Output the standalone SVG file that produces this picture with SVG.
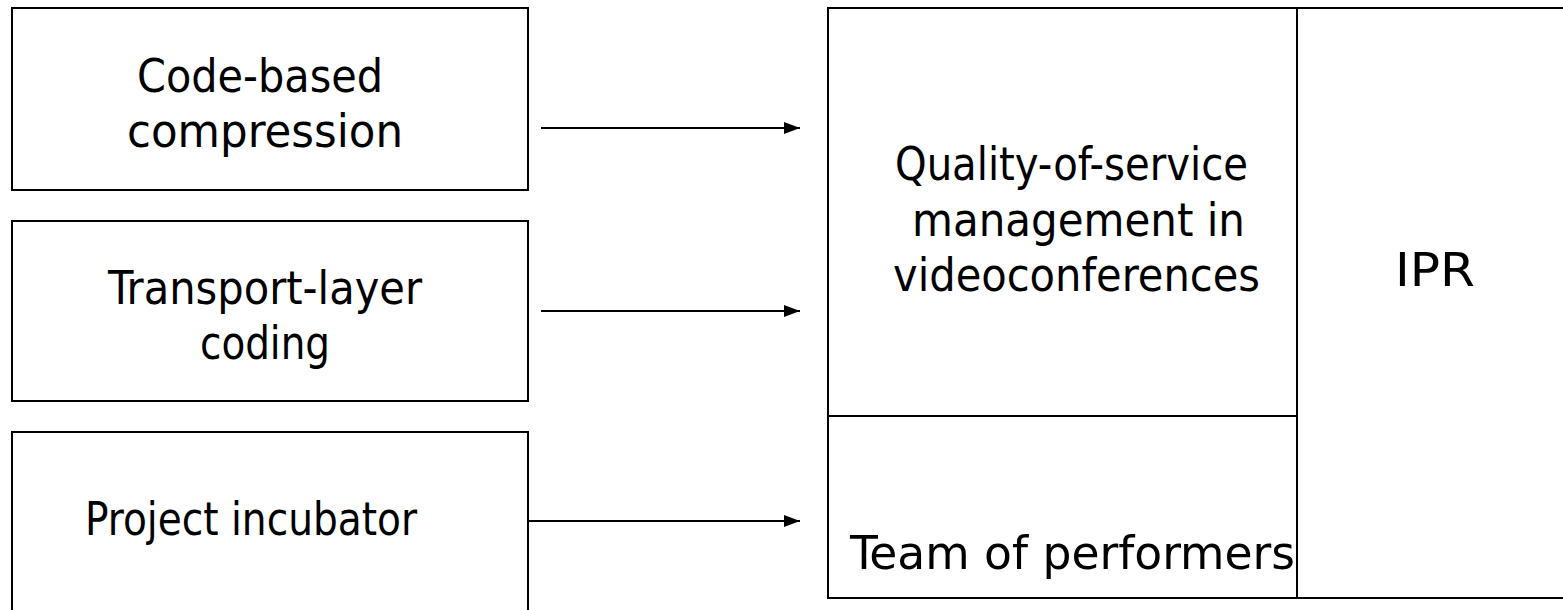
<svg xmlns="http://www.w3.org/2000/svg" width="1563" height="610" viewBox="0 0 1563 610">
<style>
.box{fill:#fff;stroke:#000;stroke-width:2}
.t{font-family:"DejaVu Sans Condensed","DejaVu Sans","Liberation Sans",sans-serif;font-size:46px;fill:#000}
.c{stroke:#000;stroke-width:2;fill:none}
</style>
<defs>
<marker id="ah" markerUnits="userSpaceOnUse" markerWidth="17" markerHeight="14" refX="16" refY="7" orient="auto">
<path d="M0,1 L16,7 L0,13 z" fill="#000"/>
</marker>
</defs>
<rect width="1563" height="610" fill="#fff"/>
<g id="node-code">
<rect class="box" x="12" y="8" width="516" height="182"/>
<text class="t" x="137" y="92" textLength="246" lengthAdjust="spacingAndGlyphs">Code-based</text>
<text class="t" x="127" y="147" textLength="276" lengthAdjust="spacingAndGlyphs">compression</text>
</g>
<g id="node-transport">
<rect class="box" x="12" y="221" width="516" height="180"/>
<text class="t" x="108" y="304" textLength="314" lengthAdjust="spacingAndGlyphs">Transport-layer</text>
<text class="t" x="200" y="359" textLength="130" lengthAdjust="spacingAndGlyphs">coding</text>
</g>
<g id="node-incubator">
<rect class="box" x="12" y="432" width="516" height="184"/>
<text class="t" x="85" y="535" textLength="332" lengthAdjust="spacingAndGlyphs">Project incubator</text>
</g>
<g id="node-qos">
<rect class="box" x="828" y="8" width="517" height="590"/>
<text class="t" x="895" y="180" textLength="353" lengthAdjust="spacingAndGlyphs">Quality-of-service</text>
<text class="t" x="912" y="236" textLength="333" lengthAdjust="spacingAndGlyphs">management in</text>
<text class="t" x="893" y="291" textLength="367" lengthAdjust="spacingAndGlyphs">videoconferences</text>
</g>
<g id="node-team">
<line class="c" x1="828" y1="416" x2="1297" y2="416"/>
<text class="t" x="850" y="569" textLength="445" lengthAdjust="spacingAndGlyphs">Team of performers</text>
</g>
<g id="node-ipr">
<rect class="box" x="1297" y="8" width="280" height="590"/>
<text class="t" x="1395" y="286" textLength="80" lengthAdjust="spacingAndGlyphs">IPR</text>
</g>
<g id="connectors">
<line class="c" x1="541" y1="128" x2="800" y2="128" marker-end="url(#ah)"/>
<line class="c" x1="541" y1="311" x2="800" y2="311" marker-end="url(#ah)"/>
<line class="c" x1="528" y1="521" x2="800" y2="521" marker-end="url(#ah)"/>
</g>
</svg>
